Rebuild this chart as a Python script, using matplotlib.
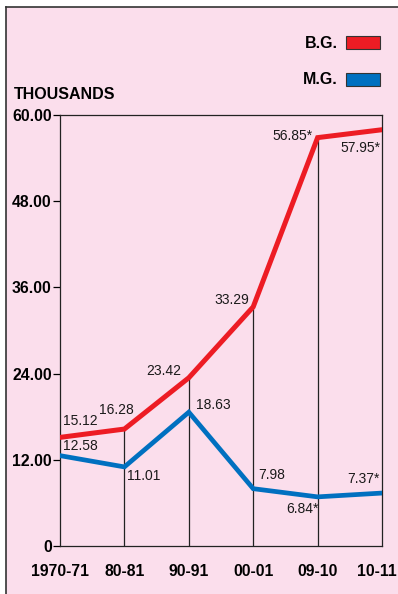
import matplotlib.pyplot as plt
from matplotlib.patches import Rectangle
from matplotlib.lines import Line2D
from matplotlib.transforms import ScaledTranslation

plt.rcParams['font.family'] = ['Liberation Sans', 'DejaVu Sans']

years = ['1970-71', '80-81', '90-91', '00-01', '09-10', '10-11']
bg = [15.12, 16.28, 23.42, 33.29, 56.85, 57.95]
mg = [12.58, 11.01, 18.63, 7.98, 6.84, 7.37]
bg_labels = ['15.12', '16.28', '23.42', '33.29', '56.85*', '57.95*']
mg_labels = ['12.58', '11.01', '18.63', '7.98', '6.84*', '7.37*']
yticks = [0, 12, 24, 36, 48, 60]
ytick_labels = ['0', '12.00', '24.00', '36.00', '48.00', '60.00']

pink = '#fbdeec'
red = '#ed1c24'
blue = '#0070c0'

W, H = 398, 594
fig = plt.figure(figsize=(W / 100, H / 100), dpi=100)
fig.patch.set_facecolor('white')

# pink panel with a rule on the left and top
fig.patches.append(Rectangle((6 / W, 0), 1, 1 - 7 / H, transform=fig.transFigure,
                             facecolor=pink, edgecolor='none', zorder=-5))
fig.lines.append(Line2D([6 / W, 6 / W], [0, 1 - 7 / H], transform=fig.transFigure,
                        color='#333333', lw=1.2, zorder=-4))
fig.lines.append(Line2D([6 / W, 1], [1 - 7 / H, 1 - 7 / H], transform=fig.transFigure,
                        color='#333333', lw=1.2, zorder=-4))

ax = fig.add_axes([60 / W, 48 / H, 322 / W, 431 / H])
ax.set_facecolor('none')
x = list(range(len(years)))

ax.vlines(x[1:-1], 0, bg[1:-1], color='#222222', lw=0.9, zorder=1)
ax.plot(x, bg, color=red, lw=3.6, solid_joinstyle='miter', zorder=3)
ax.plot(x, mg, color=blue, lw=3.4, solid_joinstyle='miter', zorder=3)

ax.set_xlim(0, 5)
ax.set_ylim(0, 60)
ax.set_xticks(x)
ax.set_xticklabels(years, fontsize=11.3, fontweight='bold')
ax.set_yticks(yticks)
ax.set_yticklabels(ytick_labels, fontsize=11.3, fontweight='bold')
ax.tick_params(axis='x', length=0, pad=13)
ax.tick_params(axis='y', length=5, width=0.9, pad=1)
for s in ax.spines.values():
    s.set_linewidth(0.9)
    s.set_color('#222222')

# last year label sits a little left so it stays on the page
last = ax.get_xticklabels()[-1]
last.set_transform(last.get_transform() + ScaledTranslation(-5 / 100, 0, fig.dpi_scale_trans))

# value labels
bg_off = [(3, 16, 'left'), (9, 19, 'right'), (-8, 7, 'right'), (-4, 7, 'right'),
          (-5, 2, 'right'), (-2, -18, 'right')]
mg_off = [(3, 10, 'left'), (3, -9, 'left'), (7, 7, 'left'), (5, 14, 'left'),
          (1, -12, 'right'), (-2, 14, 'right')]
for i in x:
    dx, dy, ha = bg_off[i]
    ax.annotate(bg_labels[i], (i, bg[i]), xytext=(dx, dy), textcoords='offset pixels',
                ha=ha, va='center', fontsize=10, color='#1a1a1a', annotation_clip=False)
    dx, dy, ha = mg_off[i]
    ax.annotate(mg_labels[i], (i, mg[i]), xytext=(dx, dy), textcoords='offset pixels',
                ha=ha, va='center', fontsize=10, color='#1a1a1a', annotation_clip=False)

fig.text(14 / W, 1 - 94 / H, 'THOUSANDS', fontsize=11.5, fontweight='bold',
         ha='left', va='center')

# legend keys
for label, color, yc in [('B.G.', red, 43), ('M.G.', blue, 80)]:
    fig.text(338 / W, 1 - yc / H, label, fontsize=11.5, fontweight='bold',
             ha='right', va='center')
    fig.patches.append(Rectangle((346 / W, 1 - (yc + 6) / H), 34 / W, 13 / H,
                                 transform=fig.transFigure, facecolor=color,
                                 edgecolor='#333333', lw=0.8))

fig.savefig('out.png', dpi=100)
